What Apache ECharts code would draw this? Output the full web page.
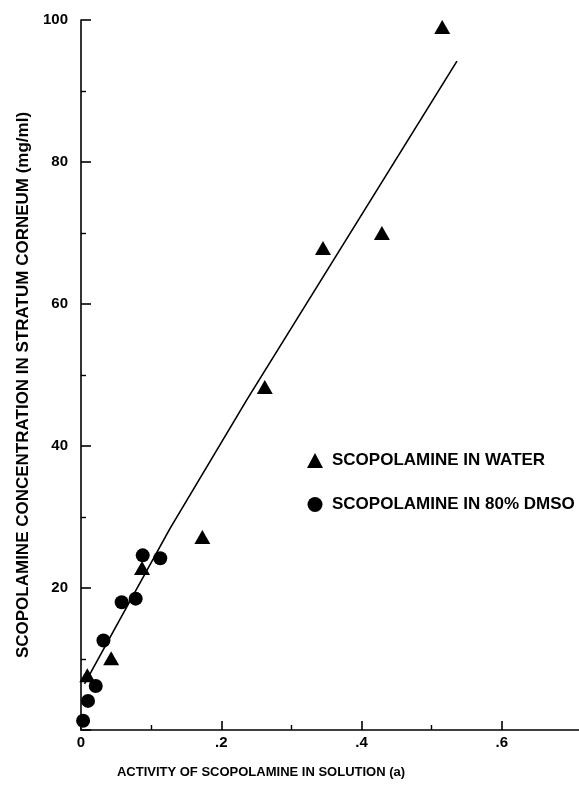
<!DOCTYPE html>
<html><head><meta charset="utf-8">
<script src="https://cdn.jsdelivr.net/npm/echarts@6/dist/echarts.min.js"></script>
<style>html,body{margin:0;padding:0;background:#fff}#c{width:579px;height:787px}</style>
</head><body><div id="c"></div>
<script>
// Data
const waterData = [[0.009,7.7],[0.043,10.1],[0.087,22.8],[0.173,27.2],[0.262,48.3],[0.345,67.9],[0.429,70.0],[0.515,99.0]];
const dmsoData = [[0.003,1.3],[0.010,4.1],[0.021,6.2],[0.032,12.6],[0.058,18.0],[0.078,18.5],[0.088,24.6],[0.113,24.2]];
const fitLine = [[0.005,6.5],[0.07,18.2],[0.127,28.4],[0.237,46.6],[0.536,94.2]];
const xMajorTicks = [0, 0.2, 0.4, 0.6];
const xMinorTicks = [0.1, 0.3, 0.5];
const yLabelTicks = [20, 40, 60, 80, 100];
const seriesNames = ['SCOPOLAMINE IN WATER', 'SCOPOLAMINE IN 80% DMSO'];
const xTitle = 'ACTIVITY OF SCOPOLAMINE IN SOLUTION (a)';
const yTitle = 'SCOPOLAMINE CONCENTRATION IN STRATUM CORNEUM (mg/ml)';

const FONT = '"Liberation Sans", Arial, Helvetica, sans-serif';
const INK = '#000';
const chart = echarts.init(document.getElementById('c'), null, {renderer: 'canvas'});
chart.setOption({
  animation: false,
  backgroundColor: '#fff',
  grid: {left: 81, right: 0, top: 20, bottom: 57, containLabel: false},
  legend: {
    orient: 'vertical', left: 302, top: 447, itemWidth: 16, itemHeight: 15, itemGap: 27,
    data: [{name: seriesNames[0], icon: 'triangle'}, {name: seriesNames[1], icon: 'circle'}],
    itemStyle: {color: INK, opacity: 1},
    textStyle: {fontFamily: FONT, fontSize: 17, fontWeight: 'bold', color: INK, padding: [0, 0, 0, 4]}
  },
  xAxis: [{
    type: 'value', min: 0, max: 0.71, position: 'bottom',
    axisLine: {show: true, onZero: false, lineStyle: {color: INK, width: 1.6}},
    axisTick: {show: true, inside: true, length: 9, customValues: xMajorTicks, lineStyle: {color: INK, width: 1.6}},
    axisLabel: {customValues: xMajorTicks, margin: 5, fontFamily: FONT, fontSize: 15, fontWeight: 'bold', color: INK,
      formatter: v => v === 0 ? '0' : String(+v.toFixed(2)).replace(/^0/, '')},
    splitLine: {show: false},
    name: xTitle, nameLocation: 'middle', nameGap: 36,
    nameTextStyle: {fontFamily: FONT, fontSize: 13, fontWeight: 'bold', color: INK, padding: [0, 138, 0, 0]}
  }, {
    type: 'value', min: 0, max: 0.71, position: 'bottom',
    axisLine: {show: false},
    axisTick: {show: true, inside: true, length: 5, customValues: xMinorTicks, lineStyle: {color: INK, width: 1.4}},
    axisLabel: {show: false},
    splitLine: {show: false}
  }],
  yAxis: {
    type: 'value', min: 0, max: 100, interval: 20,
    axisLine: {show: true, onZero: false, lineStyle: {color: INK, width: 1.6}},
    axisTick: {show: true, inside: true, length: 10, lineStyle: {color: INK, width: 1.6}},
    minorTick: {show: true, splitNumber: 2, length: 5, lineStyle: {color: INK, width: 1.4}},
    axisLabel: {customValues: yLabelTicks, margin: 13, fontFamily: FONT, fontSize: 15, fontWeight: 'bold', color: INK},
    splitLine: {show: false},
    name: yTitle, nameLocation: 'middle', nameGap: 46,
    nameTextStyle: {fontFamily: FONT, fontSize: 17, fontWeight: 'bold', color: INK, padding: [0, 20, 0, 0]}
  },
  series: [{
    type: 'line', data: fitLine, xAxisIndex: 0, showSymbol: false, symbol: 'none',
    lineStyle: {color: INK, width: 1.6}, silent: true, z: 1
  }, {
    name: seriesNames[0], type: 'scatter', data: waterData, xAxisIndex: 0,
    symbol: 'triangle', symbolSize: [16, 14], itemStyle: {color: INK, opacity: 1}, z: 3
  }, {
    name: seriesNames[1], type: 'scatter', data: dmsoData, xAxisIndex: 0,
    symbol: 'circle', symbolSize: 14, itemStyle: {color: INK, opacity: 1}, z: 3
  }]
});
</script></body></html>
